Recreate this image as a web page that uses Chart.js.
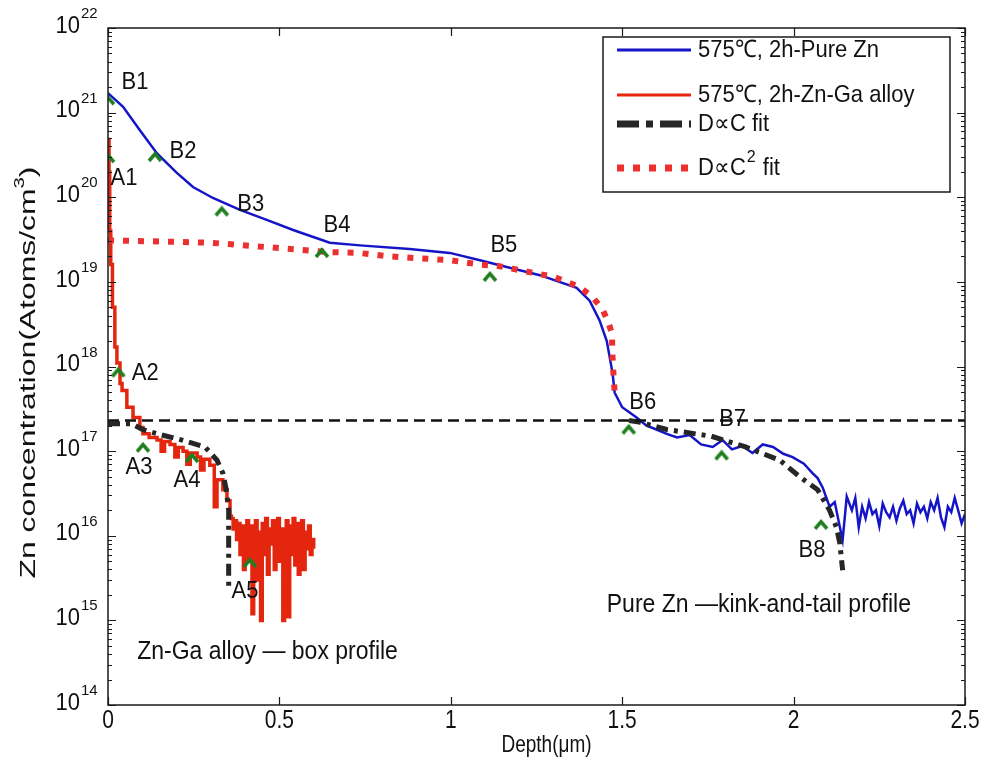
<!DOCTYPE html>
<html>
<head>
<meta charset="utf-8">
<title>Zn diffusion profiles</title>
<script src="https://cdn.jsdelivr.net/npm/chart.js@4.4.1/dist/chart.umd.min.js"></script>
<style>
  html, body { margin: 0; padding: 0; background: #fff; }
  #wrap { width: 984px; height: 767px; position: relative; }
</style>
</head>
<body>
<div id="wrap"><canvas id="myChart"></canvas></div>
<script>
// depth in um, concentration in atoms/cm3
const pureZnDepth = [0, 0.044, 0.093, 0.143, 0.2, 0.248, 0.306, 0.385, 0.463, 0.54,
  0.647, 0.735, 0.88, 0.997, 1.085, 1.163, 1.26, 1.367, 1.405, 1.434,
  1.455, 1.472, 1.478, 1.50, 1.542, 1.571, 1.60, 1.63, 1.66, 1.697,
  1.73, 1.764, 1.793, 1.82, 1.85, 1.88, 1.91, 1.94, 1.97, 1.997,
  2.03, 2.055, 2.07, 2.085, 2.105, 2.12, 2.135, 2.143, 2.155, 2.17,
  2.18, 2.19, 2.20, 2.21, 2.22, 2.23, 2.24, 2.25, 2.26, 2.27,
  2.28, 2.29, 2.30, 2.31, 2.32, 2.33, 2.34, 2.35, 2.36, 2.37,
  2.38, 2.39, 2.40, 2.41, 2.42, 2.43, 2.44, 2.45, 2.46, 2.47,
  2.48, 2.49, 2.50];
const pureZnConc = [1.7e21, 1.17e21, 6.2e20, 3.3e20, 1.95e20, 1.32e20, 9.8e19, 7.1e19, 5.4e19, 4.1e19,
  2.9e19, 2.7e19, 2.45e19, 2.2e19, 1.8e19, 1.5e19, 1.2e19, 8.5e18, 6.0e18, 3.5e18,
  2.0e18, 8.3e17, 4.9e17, 3.3e17, 2.5e17, 2.0e17, 1.8e17, 1.6e17, 1.45e17, 1.55e17,
  1.2e17, 1.12e17, 1.35e17, 1.05e17, 1.15e17, 9.5e16, 1.2e17, 1.12e17, 9.3e16, 8.5e16,
  7.1e16, 5.5e16, 4.8e16, 3.7e16, 2.2e16, 2.5e16, 1.26e16, 8.9e15, 2.9e16, 2.0e16,
  2.8e16, 1.26e16, 2.2e16, 1.6e16, 2.5e16, 1.8e16, 2.0e16, 1.3e16, 2.4e16, 1.9e16,
  1.65e16, 2.2e16, 1.5e16, 2.1e16, 2.6e16, 1.8e16, 2.0e16, 1.4e16, 2.4e16, 1.9e16,
  2.2e16, 1.6e16, 2.5e16, 2.0e16, 2.8e16, 1.65e16, 1.26e16, 2.2e16, 1.9e16, 2.8e16,
  2.0e16, 1.4e16, 1.8e16];

const alloyDepth = [0, 0.003, 0.005, 0.008, 0.013, 0.02, 0.026, 0.035, 0.041, 0.055,
  0.073, 0.093, 0.102, 0.12, 0.143, 0.155, 0.165, 0.181, 0.195, 0.205,
  0.219, 0.23, 0.24, 0.26, 0.27, 0.28, 0.297, 0.31, 0.318, 0.335,
  0.347, 0.356, 0.36, 0.365, 0.37, 0.375, 0.38, 0.385, 0.39, 0.395,
  0.40, 0.405, 0.41, 0.415, 0.42, 0.425, 0.43, 0.435, 0.44, 0.445,
  0.45, 0.455, 0.46, 0.465, 0.47, 0.475, 0.48, 0.485, 0.49, 0.495,
  0.50, 0.505, 0.51, 0.515, 0.52, 0.525, 0.53, 0.535, 0.54, 0.545,
  0.55, 0.555, 0.56, 0.565, 0.57, 0.575, 0.58, 0.585, 0.59, 0.595,
  0.60];
const alloyConc = [4.8e20, 2.0e20, 4.0e19, 1.6e19, 5.0e18, 1.7e18, 1.1e18, 6.3e17, 5.2e17, 3.3e17,
  2.5e17, 1.9e17, 1.6e17, 1.45e17, 1.35e17, 1.0e17, 1.3e17, 1.2e17, 8.5e16, 1.1e17,
  1.0e17, 7.0e16, 9.5e16, 8.5e16, 6.0e16, 8.0e16, 6.8e16, 2.2e16, 4.6e16, 3.5e16,
  2.6e16, 1.7e16, 1.6e16, 1.2e16, 1.5e16, 9.0e15, 1.4e16, 6.0e15, 1.3e16, 4.0e15,
  1.2e16, 1.5e16, 5.0e15, 1.3e16, 1.2e15, 9.0e15, 1.5e16, 3.0e15, 1.1e16, 1.0e15,
  1.4e16, 6.0e15, 1.6e16, 3.5e15, 1.2e16, 8.0e15, 1.5e16, 4.0e15, 1.3e16, 1.6e16,
  5.0e15, 1.2e16, 1.0e15, 9.0e15, 1.5e16, 1.1e15, 1.3e16, 6.0e15, 1.6e16, 4.5e15,
  1.4e16, 3.5e15, 1.2e16, 1.5e16, 4.0e15, 1.1e16, 7.0e15, 1.3e16, 6.0e15, 9.0e15,
  7.0e15];

// D ~ C fit: alloy box part, then pure Zn tail part (null = gap)
const fitCDepth = [0, 0.07, 0.1, 0.157, 0.216, 0.283, 0.318, 0.335, 0.345, 0.352, 0.352,
  null,
  1.52, 1.55, 1.63, 1.76, 1.86, 1.96, 2.02, 2.07, 2.105, 2.125, 2.135, 2.143];
const fitCConc = [2.1e17, 2.1e17, 1.8e17, 1.55e17, 1.35e17, 1.12e17, 7.8e16, 5.5e16, 3.5e16, 2.0e16, 2.4e15,
  null,
  2.3e17, 2.2e17, 1.8e17, 1.5e17, 1.12e17, 7.8e16, 4.9e16, 3.5e16, 2.0e16, 1.26e16, 8.1e15, 3.9e15];

// D ~ C^2 fit
const fitC2Depth = [0, 0.3, 0.56, 0.64, 0.73, 0.82, 0.91, 1.0, 1.085, 1.135,
  1.21, 1.30, 1.376, 1.414, 1.443, 1.46, 1.47, 1.472, 1.478];
const fitC2Conc = [3.1e19, 2.9e19, 2.4e19, 2.25e19, 2.2e19, 2.0e19, 1.9e19, 1.8e19, 1.6e19, 1.55e19,
  1.35e19, 1.15e19, 8.7e18, 6.6e18, 4.7e18, 3.3e18, 2.45e18, 1.2e18, 4.9e17];

// horizontal reference level
const levelDepth = [0, 2.5];
const levelConc = [2.3e17, 2.3e17];

const markerNames = ['B1', 'B2', 'B3', 'B4', 'B5', 'B6', 'B7', 'B8', 'A1', 'A2', 'A3', 'A4', 'A5'];
const markerDepth = [0, 0.137, 0.332, 0.624, 1.114, 1.519, 1.79, 2.08, 0, 0.03, 0.102, 0.245, 0.414];
const markerConc = [1.4e21, 3.0e20, 6.8e19, 2.2e19, 1.15e19, 1.8e17, 8.9e16, 1.35e16, 2.9e20, 8.5e17, 1.1e17, 8.3e16, 4.8e15];

const xTickValues = [0, 0.5, 1, 1.5, 2, 2.5];
const xTickLabels = ['0', '0.5', '1', '1.5', '2', '2.5'];
const yDecades = [14, 15, 16, 17, 18, 19, 20, 21, 22];

const notes = [
  { text: 'Zn-Ga alloy \u2014 box profile', depth: 0.085, conc: 4.2e14 },
  { text: 'Pure Zn \u2014kink-and-tail profile', depth: 1.455, conc: 1.5e15 }
];

// label offset from each caret, px
const markerLabelOffset = [[27, -18], [28, -6], [29, -7], [15, -28], [14, -31], [14, -27], [11, -36], [-9, 26],
  [16, 20], [27, 1], [-4, 20], [-5, 22], [-5, 29]];

const FONT = '"Liberation Sans", Arial, Helvetica, sans-serif';

function pts(xs, ys) {
  return xs.map((x, i) => (x === null ? { x: NaN, y: null } : { x: x, y: ys[i] }));
}

function makeCaret() {
  const c = document.createElement('canvas');
  c.width = 16; c.height = 12;
  const g = c.getContext('2d');
  g.strokeStyle = '#1f7f1f';
  g.lineWidth = 3.5;
  g.beginPath();
  g.moveTo(2, 10); g.lineTo(8, 3); g.lineTo(14, 10);
  g.stroke();
  return c;
}

// text stretched vertically a bit, like the source figure
function tallText(c, txt, x, y, sy) {
  c.save();
  c.translate(x, y);
  c.scale(1, sy);
  c.fillText(txt, 0, 0);
  c.restore();
}

const axesPlugin = {
  id: 'axesBox',
  afterDatasetsDraw(chart) {
    const { ctx, chartArea: a, scales } = chart;
    const x = scales.x, y = scales.y;
    ctx.save();
    ctx.strokeStyle = '#1a1a1a';
    ctx.lineWidth = 1.2;
    ctx.beginPath();
    x.ticks.forEach(t => {
      const px = Math.round(x.getPixelForValue(t.value)) + 0.5;
      ctx.moveTo(px, a.bottom); ctx.lineTo(px, a.bottom - 8);
      ctx.moveTo(px, a.top); ctx.lineTo(px, a.top + 8);
    });
    y.ticks.forEach(t => {
      const py = Math.round(y.getPixelForValue(t.value)) + 0.5;
      const major = Math.abs(Math.log10(t.value) - Math.round(Math.log10(t.value))) < 1e-9;
      const len = major ? 8 : 4;
      ctx.moveTo(a.left, py); ctx.lineTo(a.left + len, py);
      ctx.moveTo(a.right, py); ctx.lineTo(a.right - len, py);
    });
    ctx.stroke();
    ctx.lineWidth = 1.5;
    ctx.strokeRect(a.left, a.top, a.right - a.left, a.bottom - a.top);

    // y tick labels 10^n
    ctx.fillStyle = '#111';
    yDecades.forEach(e => {
      const py = y.getPixelForValue(Math.pow(10, e));
      ctx.font = '22px ' + FONT;
      ctx.textAlign = 'right';
      ctx.textBaseline = 'middle';
      tallText(ctx, '10', a.left - 28, py - 2, 1.1);
      ctx.font = '15px ' + FONT;
      ctx.textAlign = 'left';
      ctx.textBaseline = 'alphabetic';
      ctx.fillText(String(e), a.left - 27, py - 10);
    });

    // x tick labels
    ctx.font = '21px ' + FONT;
    ctx.textAlign = 'center';
    ctx.textBaseline = 'middle';
    xTickValues.forEach((v, i) => {
      tallText(ctx, xTickLabels[i], x.getPixelForValue(v), a.bottom + 16, 1.2);
    });

    // axis titles
    ctx.font = '19px ' + FONT;
    tallText(ctx, 'Depth(\u03bcm)', (a.left + a.right) / 2 + 10, 745, 1.25);

    ctx.save();
    ctx.translate(27, (a.top + a.bottom) / 2 + 6);
    ctx.rotate(-Math.PI / 2);
    ctx.scale(1.45, 1);
    const main = 'Zn concentration(Atoms/cm';
    ctx.font = '22px ' + FONT;
    const w1 = ctx.measureText(main).width;
    ctx.font = '14px ' + FONT;
    const w2 = ctx.measureText('3').width;
    ctx.font = '22px ' + FONT;
    const w3 = ctx.measureText(')').width;
    const sx = -(w1 + w2 + w3) / 2;
    ctx.textAlign = 'left';
    ctx.textBaseline = 'alphabetic';
    ctx.fillText(main, sx, 8);
    ctx.font = '14px ' + FONT;
    ctx.fillText('3', sx + w1, -3);
    ctx.font = '22px ' + FONT;
    ctx.fillText(')', sx + w1 + w2, 8);
    ctx.restore();
    ctx.restore();
  },
  afterDraw(chart) {
    const { ctx, chartArea: a, scales } = chart;
    const x = scales.x, y = scales.y;
    ctx.save();
    // marker labels
    const meta = chart.getDatasetMeta(5);
    ctx.fillStyle = '#111';
    ctx.font = '22px ' + FONT;
    ctx.textAlign = 'center';
    ctx.textBaseline = 'middle';
    meta.data.forEach((p, i) => {
      const off = markerLabelOffset[i];
      tallText(ctx, markerNames[i], p.x + off[0], p.y + off[1], 1.1);
    });
    // notes
    ctx.font = '23px ' + FONT;
    ctx.textAlign = 'left';
    notes.forEach(n => {
      tallText(ctx, n.text, x.getPixelForValue(n.depth), y.getPixelForValue(n.conc), 1.1);
    });

    // legend
    const ds = chart.data.datasets;
    const bx = a.right - 362, by = a.top + 9, bw = 347, bh = 155;
    ctx.fillStyle = '#fff';
    ctx.fillRect(bx, by, bw, bh);
    ctx.strokeStyle = '#1a1a1a';
    ctx.lineWidth = 1.5;
    ctx.strokeRect(bx, by, bw, bh);
    const rows = [13, 58, 87, 131];
    const legendItems = [0, 1, 2, 3];
    const legendDash = [[], [], [22, 7, 7, 7], [7, 9]];
    legendItems.forEach((di, r) => {
      const d = ds[di];
      const ly = by + rows[r];
      ctx.save();
      ctx.strokeStyle = d.borderColor;
      ctx.lineWidth = r < 2 ? 3 : 7;
      ctx.setLineDash(legendDash[r]);
      ctx.beginPath();
      ctx.moveTo(bx + 14, ly);
      ctx.lineTo(bx + 88, ly);
      ctx.stroke();
      ctx.restore();
      ctx.fillStyle = '#111';
      ctx.font = '22px ' + FONT;
      ctx.textBaseline = 'middle';
      ctx.textAlign = 'left';
      const label = d.label;
      const sup = label.indexOf('^');
      if (sup < 0) {
        tallText(ctx, label, bx + 95, ly, 1.1);
      } else {
        const pre = label.slice(0, sup);
        const post = label.slice(sup + 2);
        const wp = ctx.measureText(pre).width;
        tallText(ctx, pre, bx + 95, ly, 1.1);
        ctx.font = '16px ' + FONT;
        ctx.fillText(label[sup + 1], bx + 95 + wp + 1, ly - 10);
        const ws = ctx.measureText(label[sup + 1]).width;
        ctx.font = '22px ' + FONT;
        tallText(ctx, post, bx + 95 + wp + ws + 2, ly, 1.1);
      }
    });
    ctx.restore();
  }
};

const ctx = document.getElementById('myChart');

new Chart(ctx, {
  type: 'line',
  data: {
    datasets: [
      {
        label: '575\u2103, 2h-Pure Zn',
        data: pts(pureZnDepth, pureZnConc),
        borderColor: '#1515c8',
        borderWidth: 2.5,
        pointRadius: 0,
        order: 5
      },
      {
        label: '575\u2103, 2h-Zn-Ga alloy',
        data: pts(alloyDepth, alloyConc),
        borderColor: '#e4260e',
        borderWidth: 3.5,
        pointRadius: 0,
        stepped: true,
        order: 4
      },
      {
        label: 'D\u221dC fit',
        data: pts(fitCDepth, fitCConc),
        borderColor: '#262626',
        borderWidth: 5,
        borderDash: [12, 6, 4, 6],
        pointRadius: 0,
        spanGaps: false,
        order: 3
      },
      {
        label: 'D\u221dC^2 fit',
        data: pts(fitC2Depth, fitC2Conc),
        borderColor: '#ec3030',
        borderWidth: 6,
        borderDash: [6, 9],
        pointRadius: 0,
        order: 2
      },
      {
        label: 'level',
        data: pts(levelDepth, levelConc),
        borderColor: '#111',
        borderWidth: 2.5,
        borderDash: [11, 6],
        pointRadius: 0,
        order: 1
      },
      {
        label: 'markers',
        data: pts(markerDepth, markerConc),
        showLine: false,
        pointStyle: makeCaret(),
        pointRadius: 7,
        order: 0
      }
    ]
  },
  options: {
    responsive: true,
    maintainAspectRatio: false,
    animation: false,
    layout: { padding: { top: 28, right: 19, left: 0, bottom: 0 } },
    plugins: { legend: { display: false }, tooltip: { enabled: false } },
    scales: {
      x: {
        type: 'linear',
        min: 0,
        max: 2.5,
        afterBuildTicks: s => { s.ticks = xTickValues.map(v => ({ value: v })); },
        afterFit: s => { s.height = 62; },
        ticks: { display: false },
        grid: { display: false },
        border: { display: false }
      },
      y: {
        type: 'logarithmic',
        min: 1e14,
        max: 1e22,
        afterBuildTicks: s => {
          const t = [];
          yDecades.forEach(e => {
            for (let m = 1; m <= 9; m++) {
              if (e === 22 && m > 1) break;
              t.push({ value: m * Math.pow(10, e) });
            }
          });
          s.ticks = t;
        },
        afterFit: s => { s.width = 108; },
        ticks: { display: false },
        grid: { display: false },
        border: { display: false }
      }
    }
  },
  plugins: [axesPlugin]
});
</script>
</body>
</html>
